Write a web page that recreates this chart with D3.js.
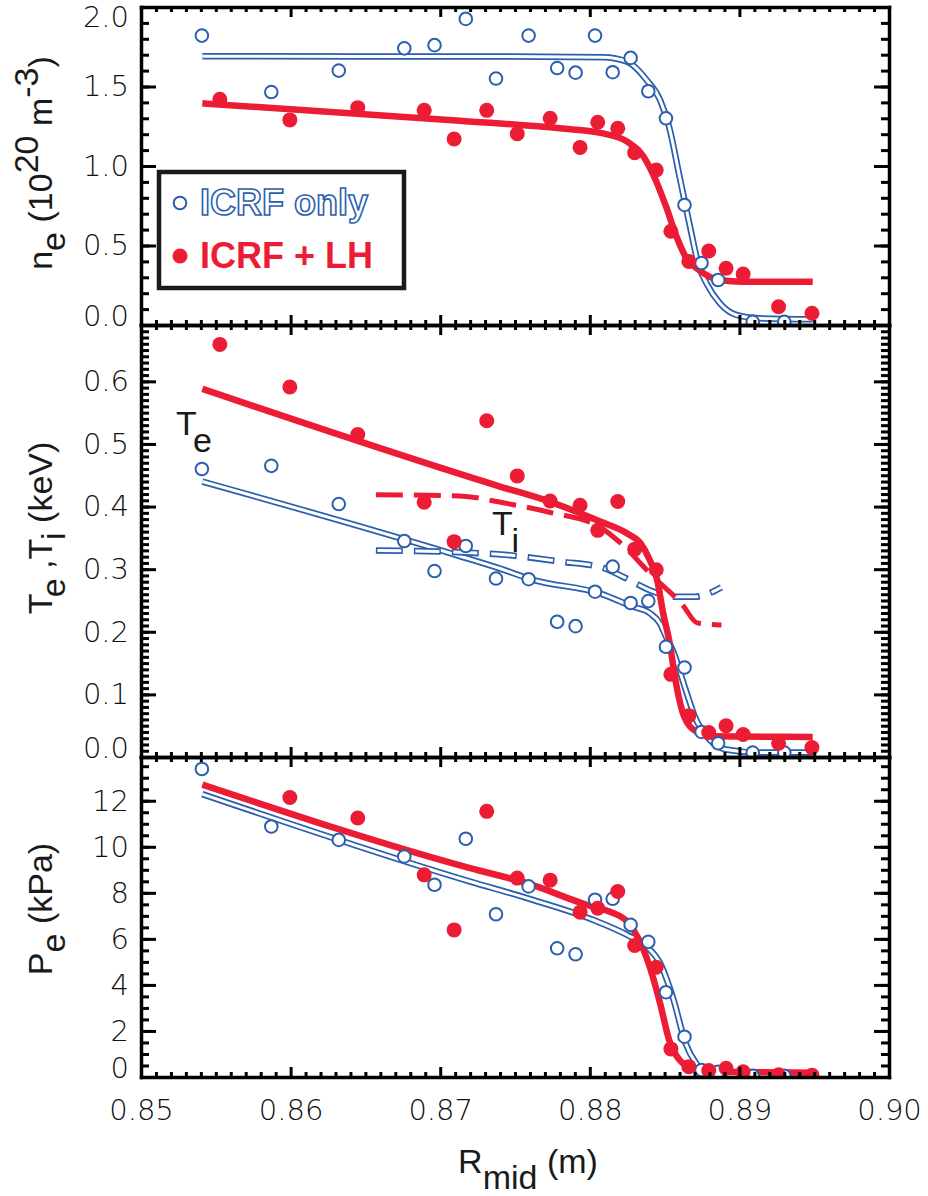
<!DOCTYPE html>
<meta charset="utf-8">
<style>
body {
  margin: 0;
  background: #fff;
}
.axis path, .axis line {
  stroke: #000;
  stroke-width: 3;
}
.axis path.domain {
  stroke-width: 3.5;
  stroke-linecap: square;
}
.axis text {
  font-family: "DejaVu Sans";
  font-size: 29px;
  font-weight: 300;
  fill: #111;
}
.title, .lab {
  font-family: "Liberation Sans", Arial, sans-serif;
  font-size: 34px;
  fill: #1a1a1a;
}
.legend text {
  font-family: "Liberation Sans", Arial, sans-serif;
  font-size: 36px;
  font-weight: bold;
}
</style>
<body>
<script src="https://cdn.jsdelivr.net/npm/d3@7"></script>
<script>

var width = 928,
    height = 1196;

var blue = "#2b5fae",
    red = "#ec1c35";

// tick labels
var xTicks = [0.85, 0.86, 0.87, 0.88, 0.89, 0.90];
var neTicks = [0.0, 0.5, 1.0, 1.5, 2.0];
var teTicks = [0.0, 0.1, 0.2, 0.3, 0.4, 0.5, 0.6];
var peTicks = [0, 2, 4, 6, 8, 10, 12];

// ICRF only (open circles)
var rBlue  = [0.85407, 0.85871, 0.86322, 0.86760, 0.86962, 0.87171, 0.87373, 0.87591, 0.87782, 0.87905,
              0.88035, 0.88153, 0.88273, 0.88391, 0.88509, 0.88633, 0.88747, 0.88858, 0.89089, 0.89300];
var neBlue = [1.82, 1.465, 1.60, 1.74, 1.76, 1.925, 1.55, 1.82, 1.616, 1.587,
              1.82, 1.59, 1.68, 1.47, 1.30, 0.755, 0.39, 0.283, 0.02, 0.02];
var teBlue = [0.460, 0.465, 0.404, 0.345, 0.297, 0.337, 0.285, 0.284, 0.216, 0.209,
              0.264, 0.304, 0.246, 0.249, 0.176, 0.143, 0.040, 0.022, 0.007, 0.007];
var peBlue = [13.38, 10.88, 10.30, 9.58, 8.35, 10.35, 7.07, 8.28, 5.59, 5.33,
              7.70, 7.74, 6.61, 5.87, 3.68, 1.75, 0.30, 0.23, 0.05, 0.05];

// ICRF + LH (filled dots)
var rRed  = [0.85527, 0.85995, 0.86449, 0.86893, 0.87093, 0.87311, 0.87515, 0.87735, 0.87935, 0.88053,
             0.88187, 0.88300, 0.88444, 0.88542, 0.88662, 0.88795, 0.88911, 0.89025, 0.89262, 0.89485];
var neRed = [1.42, 1.29, 1.367, 1.35, 1.17, 1.35, 1.203, 1.30, 1.117, 1.275,
             1.237, 1.084, 0.975, 0.59, 0.40, 0.465, 0.357, 0.32, 0.115, 0.074];
var teRed = [0.659, 0.591, 0.515, 0.407, 0.344, 0.537, 0.449, 0.409, 0.402, 0.362,
             0.408, 0.332, 0.299, 0.132, 0.066, 0.039, 0.050, 0.036, 0.022, 0.015];
var peRed = [null, 12.14, 11.25, 8.78, 6.39, 11.54, 8.64, 8.55, 7.16, 7.33,
             8.06, 5.71, 4.77, 1.22, 0.45, 0.28, 0.38, 0.23, 0.10, 0.08];

// fitted profiles as [R, value]
var neBlueFit = [[0.8541,1.690],[0.8747,1.688],[0.8809,1.684],[0.8825,1.656],[0.8838,1.541],[0.8847,1.415],
                 [0.8853,1.247],[0.8860,0.933],[0.8867,0.618],[0.8873,0.367],[0.8878,0.262],[0.8887,0.136],
                 [0.8898,0.063],[0.8913,0.042],[0.8949,0.036]];
var neRedFit  = [[0.8541,1.394],[0.8713,1.285],[0.8780,1.237],[0.8809,1.205],[0.8825,1.153],[0.8836,1.058],
                 [0.8844,0.912],[0.8851,0.744],[0.8858,0.555],[0.8864,0.430],[0.8873,0.346],[0.8887,0.283],
                 [0.8902,0.272],[0.8949,0.272]];
var teBlueFit = [[0.8541,0.440],[0.8713,0.321],[0.8740,0.301],[0.8762,0.283],[0.8807,0.261],[0.8829,0.240],
                 [0.8840,0.230],[0.8847,0.213],[0.8851,0.192],[0.8856,0.167],[0.8864,0.108],[0.8871,0.060],
                 [0.8880,0.028],[0.8891,0.012],[0.8913,0.007],[0.8949,0.007]];
var teRedFit  = [[0.8541,0.588],[0.8740,0.432],[0.8773,0.408],[0.8807,0.376],[0.8825,0.357],[0.8834,0.341],
                 [0.8840,0.315],[0.8845,0.283],[0.8849,0.230],[0.8853,0.187],[0.8858,0.113],[0.8863,0.065],
                 [0.8871,0.041],[0.8882,0.033],[0.8949,0.032]];
var tiBlueFit = [[0.8657,0.330],[0.8713,0.327],[0.8743,0.323],[0.8781,0.312],[0.8809,0.302],[0.8822,0.288],
                 [0.8845,0.262],[0.8858,0.256],[0.8870,0.256],[0.8888,0.271]];
var tiRedFit  = [[0.8657,0.419],[0.8713,0.417],[0.8742,0.406],[0.8773,0.391],[0.8807,0.367],[0.8820,0.343],
                 [0.8842,0.289],[0.8862,0.243],[0.8872,0.214],[0.8888,0.211]];
var peBlueFit = [[0.8541,12.29],[0.8720,8.49],[0.8758,7.77],[0.8802,6.83],[0.8825,6.17],[0.8838,5.67],
                 [0.8847,4.94],[0.8856,3.35],[0.8864,1.47],[0.8871,0.60],[0.8882,0.09],[0.8949,0.0]];
var peRedFit  = [[0.8541,12.70],[0.8720,9.07],[0.8758,8.42],[0.8798,7.48],[0.8813,7.19],[0.8825,6.75],
                 [0.8833,5.96],[0.8840,4.80],[0.8847,3.20],[0.8853,1.61],[0.8860,0.74],[0.8869,0.38],
                 [0.8882,0.23],[0.8949,0.19]];

var left = 141, right = 889;

var x = d3.scaleLinear().domain([0.85, 0.90]).range([left, right]);

var panels = [
  {name: "ne", top: 7,   bottom: 325,  domain: [0, 2.0],  ticks: neTicks, minor: 0.1,  minorLen: 8, fmt: d3.format(".1f"),
   blue: neBlue, red: neRed, fits: [neBlueFit, neRedFit]},
  {name: "te", top: 325, bottom: 757,  domain: [0, 0.69], ticks: teTicks, minor: 0.01, minorLen: 8, fmt: d3.format(".1f"),
   blue: teBlue, red: teRed, fits: [teBlueFit, teRedFit], dashed: [tiBlueFit, tiRedFit]},
  {name: "pe", top: 757, bottom: 1077, domain: [0, 13.9], ticks: peTicks, minor: 0.5,  minorLen: 8, fmt: d3.format("d"),
   blue: peBlue, red: peRed, fits: [peBlueFit, peRedFit], xlabels: true}
];

var svg = d3.select("body").append("svg")
    .attr("width", width)
    .attr("height", height);

var defs = svg.append("defs");

var xMinor = d3.range(0.851, 0.9, 0.001).filter(function(d) { return Math.abs(Math.round(d * 100) - d * 100) > 1e-6; });

panels.forEach(function(p, i) {

  var y = d3.scaleLinear().domain(p.domain).range([p.bottom, p.top]);

  defs.append("clipPath").attr("id", "clip" + i)
    .append("rect")
      .attr("x", left).attr("y", p.top)
      .attr("width", right - left).attr("height", p.bottom - p.top);

  var g = svg.append("g").attr("clip-path", "url(#clip" + i + ")");

  var line = d3.line()
      .x(function(d) { return x(d[0]); })
      .y(function(d) { return y(d[1]); })
      .curve(d3.curveMonotoneX);

  // blue fits: hollow double stroke
  g.append("path").attr("d", line(p.fits[0]))
      .attr("fill", "none").attr("stroke", blue).attr("stroke-width", 6.5);
  g.append("path").attr("d", line(p.fits[0]))
      .attr("fill", "none").attr("stroke", "#fff").attr("stroke-width", 3);

  if (p.dashed) {
    g.append("path").attr("d", line(p.dashed[0]))
        .attr("fill", "none").attr("stroke", blue).attr("stroke-width", 6.5)
        .attr("stroke-dasharray", "27,11");
    g.append("path").attr("d", line(p.dashed[0]))
        .attr("fill", "none").attr("stroke", "#fff").attr("stroke-width", 3)
        .attr("stroke-dasharray", "24,14").attr("stroke-dashoffset", -1.5);
    g.append("path").attr("d", line(p.dashed[1]))
        .attr("fill", "none").attr("stroke", red).attr("stroke-width", 5)
        .attr("stroke-dasharray", "27,11");
  }

  g.append("path").attr("d", line(p.fits[1]))
      .attr("fill", "none").attr("stroke", red).attr("stroke-width", 6.5)
      .attr("stroke-linejoin", "round");

  var blueData = rBlue.map(function(r, j) { return [r, p.blue[j]]; }).filter(function(d) { return d[1] != null; });
  var redData = rRed.map(function(r, j) { return [r, p.red[j]]; }).filter(function(d) { return d[1] != null; });

  g.selectAll(".open")
      .data(blueData)
    .enter().append("circle")
      .attr("class", "open")
      .attr("cx", function(d) { return x(d[0]); })
      .attr("cy", function(d) { return y(d[1]); })
      .attr("r", 6.3)
      .attr("fill", "#fff")
      .attr("stroke", blue)
      .attr("stroke-width", 2);

  g.selectAll(".dot")
      .data(redData)
    .enter().append("circle")
      .attr("class", "dot")
      .attr("cx", function(d) { return x(d[0]); })
      .attr("cy", function(d) { return y(d[1]); })
      .attr("r", 7.5)
      .attr("fill", red);

  // frame and ticks
  var yMinor = d3.range(p.domain[0], p.domain[1] + 1e-9, p.minor);

  var ax = svg.append("g").attr("class", "axis");

  var gl = ax.append("g").attr("transform", "translate(" + left + ",0)")
      .call(d3.axisLeft(y).tickValues(p.ticks).tickFormat(p.fmt).tickSizeInner(-15).tickSizeOuter(0).tickPadding(12));
  gl.selectAll(".tick text").attr("transform", function(d) {
    var py = y(d);
    if (Math.abs(py - p.top) < 3) return "translate(0,10)";
    if (Math.abs(py - p.bottom) < 3) return "translate(0,-9)";
    return null;
  });
  ax.append("g").attr("transform", "translate(" + left + ",0)")
      .call(d3.axisLeft(y).tickValues(yMinor).tickFormat("").tickSize(-p.minorLen))
      .select(".domain").remove();

  ax.append("g").attr("transform", "translate(" + right + ",0)")
      .call(d3.axisRight(y).tickValues(p.ticks).tickFormat("").tickSizeInner(-15).tickSizeOuter(0));
  ax.append("g").attr("transform", "translate(" + right + ",0)")
      .call(d3.axisRight(y).tickValues(yMinor).tickFormat("").tickSize(-p.minorLen))
      .select(".domain").remove();

  ax.append("g").attr("transform", "translate(0," + p.top + ")")
      .call(d3.axisTop(x).tickValues(xTicks).tickFormat("").tickSizeInner(-10).tickSizeOuter(0));
  ax.append("g").attr("transform", "translate(0," + p.top + ")")
      .call(d3.axisTop(x).tickValues(xMinor).tickFormat("").tickSize(-5))
      .select(".domain").remove();

  ax.append("g").attr("transform", "translate(0," + p.bottom + ")")
      .call(d3.axisBottom(x).tickValues(xTicks)
        .tickFormat(p.xlabels ? d3.format(".2f") : "")
        .tickSizeInner(-10).tickSizeOuter(0).tickPadding(22));
  ax.append("g").attr("transform", "translate(0," + p.bottom + ")")
      .call(d3.axisBottom(x).tickValues(xMinor).tickFormat("").tickSize(-5))
      .select(".domain").remove();
});

// axis titles
var t1 = svg.append("text").attr("class", "title")
    .attr("text-anchor", "middle")
    .attr("transform", "translate(52,163) rotate(-90)");
t1.append("tspan").text("n");
t1.append("tspan").attr("dy", 13).text("e");
t1.append("tspan").attr("dy", -13).text(" (10");
t1.append("tspan").attr("dy", -14).text("20");
t1.append("tspan").attr("dy", 14).text(" m");
t1.append("tspan").attr("dy", -14).text("-3");
t1.append("tspan").attr("dy", 14).text(")");

var t2 = svg.append("text").attr("class", "title")
    .attr("text-anchor", "middle")
    .attr("transform", "translate(52,528) rotate(-90)");
t2.append("tspan").text("T");
t2.append("tspan").attr("dy", 13).text("e");
t2.append("tspan").attr("dy", -13).text(" ,T");
t2.append("tspan").attr("dy", 13).text("i");
t2.append("tspan").attr("dy", -13).text(" (keV)");

var t3 = svg.append("text").attr("class", "title")
    .attr("text-anchor", "middle")
    .attr("transform", "translate(52,909) rotate(-90)");
t3.append("tspan").text("P");
t3.append("tspan").attr("dy", 13).text("e");
t3.append("tspan").attr("dy", -13).text(" (kPa)");

var t4 = svg.append("text").attr("class", "title")
    .attr("text-anchor", "middle")
    .attr("transform", "translate(528,1173)");
t4.append("tspan").text("R");
t4.append("tspan").attr("dy", 16).text("mid");
t4.append("tspan").attr("dy", -16).text(" (m)");

// Te / Ti labels
var te = svg.append("text").attr("class", "lab").attr("x", 176).attr("y", 435);
te.append("tspan").text("T");
te.append("tspan").attr("dy", 17).text("e");

var ti = svg.append("text").attr("class", "lab").attr("x", 492).attr("y", 535);
ti.append("tspan").text("T");
ti.append("tspan").attr("dy", 17).text("i");

// legend
var legend = svg.append("g").attr("class", "legend");

legend.append("rect")
    .attr("x", 159).attr("y", 172)
    .attr("width", 245).attr("height", 116)
    .attr("fill", "#fff")
    .attr("stroke", "#1a1a1a")
    .attr("stroke-width", 4.5);

legend.append("circle")
    .attr("cx", 180).attr("cy", 203).attr("r", 6.3)
    .attr("fill", "#fff").attr("stroke", blue).attr("stroke-width", 2);
legend.append("text")
    .attr("x", 200).attr("y", 215)
    .attr("fill", "#fff").attr("stroke", blue).attr("stroke-width", 1.6)
    .text("ICRF only");

legend.append("circle")
    .attr("cx", 180).attr("cy", 256).attr("r", 7.5)
    .attr("fill", red);
legend.append("text")
    .attr("x", 200).attr("y", 268)
    .attr("fill", red)
    .text("ICRF + LH");

</script>
